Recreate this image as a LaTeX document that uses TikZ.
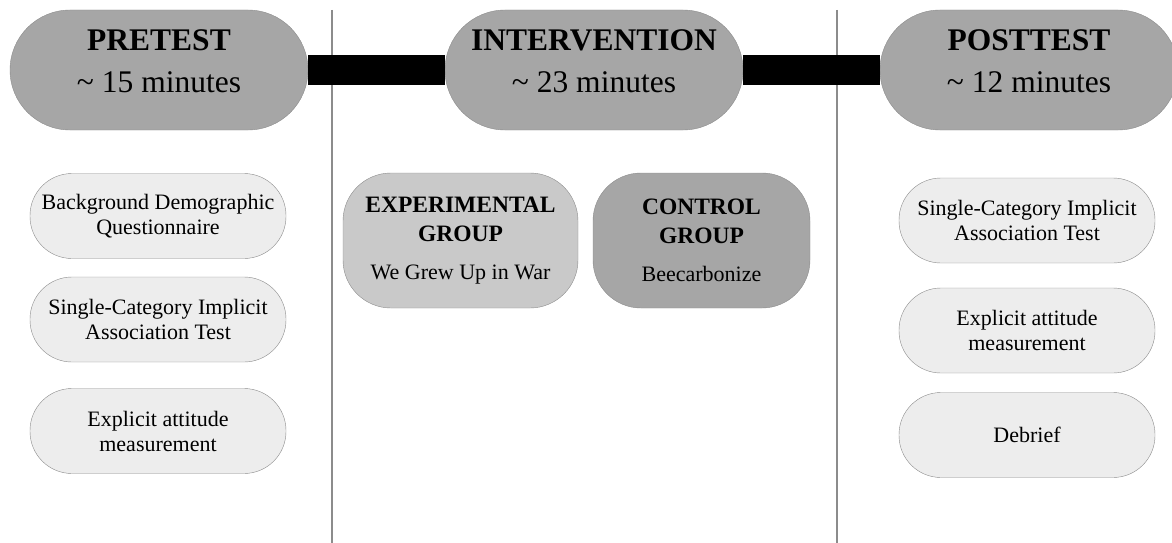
\documentclass[tikz,border=0pt]{standalone}
\usepackage{fontspec}
\setmainfont{Liberation Serif}
\definecolor{borde}{HTML}{8C8C8C}
\definecolor{grisoscuro}{HTML}{A6A6A6}
\definecolor{grismedio}{HTML}{C9C9C9}
\definecolor{grisclaro}{HTML}{EDEDED}
\begin{document}
\begin{tikzpicture}[x=1pt,y=-1pt]
\tikzset{fase/.style={rectangle,rounded corners=60pt,minimum width=298pt,minimum height=120pt,inner sep=0pt,text depth=17pt,draw=borde,fill=grisoscuro,align=center,font=\fontsize{31.5}{42}\selectfont}}
\tikzset{caja/.style={rectangle,rounded corners=42pt,minimum width=256pt,minimum height=85pt,inner sep=0pt,draw=borde,fill=grisclaro,align=center,font=\fontsize{22}{25}\selectfont}}
\tikzset{grupo/.style={rectangle,rounded corners=48pt,minimum height=135pt,inner sep=0pt,draw=borde,align=center,font=\fontsize{22}{29}\selectfont}}
\tikzset{barra/.style={line width=30pt,black}}
\tikzset{divisor/.style={line width=1.3pt,borde}}

  \clip (0,0) rectangle (1172,543);

  % divisiones
  \draw[divisor] (332,10) -- (332,543);
  \draw[divisor] (837,10) -- (837,543);

  % fases
  \draw (159,70) node[fase](pre) {\textbf{PRETEST}\\\textasciitilde{} 15 minutes};
  \draw (594,70) node[fase](int) {\textbf{INTERVENTION}\\\textasciitilde{} 23 minutes};
  \draw (1029,70) node[fase](post) {\textbf{POSTTEST}\\\textasciitilde{} 12 minutes};

  \draw[barra] (pre) -- (int);
  \draw[barra] (int) -- (post);

  % pretest
  \draw (158,216) node[caja](demo) {Background Demographic\\Questionnaire};
  \draw (158,319.5) node[caja](iat1) {Single-Category Implicit\\Association Test};
  \draw (158,431) node[caja](expl1) {Explicit attitude\\measurement};

  % intervencion
  \draw (460.5,240.5) node[grupo,minimum width=235pt,fill=grismedio](exper) {{\fontsize{23.5}{29}\selectfont\bfseries EXPERIMENTAL}\\{\fontsize{23.5}{29}\selectfont\bfseries GROUP}\\[9pt]We Grew Up in War};
  \draw (701.5,240.5) node[grupo,minimum width=217pt,fill=grisoscuro](ctrl) {{\fontsize{23.5}{29}\selectfont\bfseries CONTROL}\\{\fontsize{23.5}{29}\selectfont\bfseries GROUP}\\[9pt]Beecarbonize};

  % posttest
  \draw (1027,220.5) node[caja](iat2) {Single-Category Implicit\\Association Test};
  \draw (1027,330.5) node[caja](expl2) {Explicit attitude\\measurement};
  \draw (1027,435) node[caja](debr) {Debrief};

\end{tikzpicture}
\end{document}
